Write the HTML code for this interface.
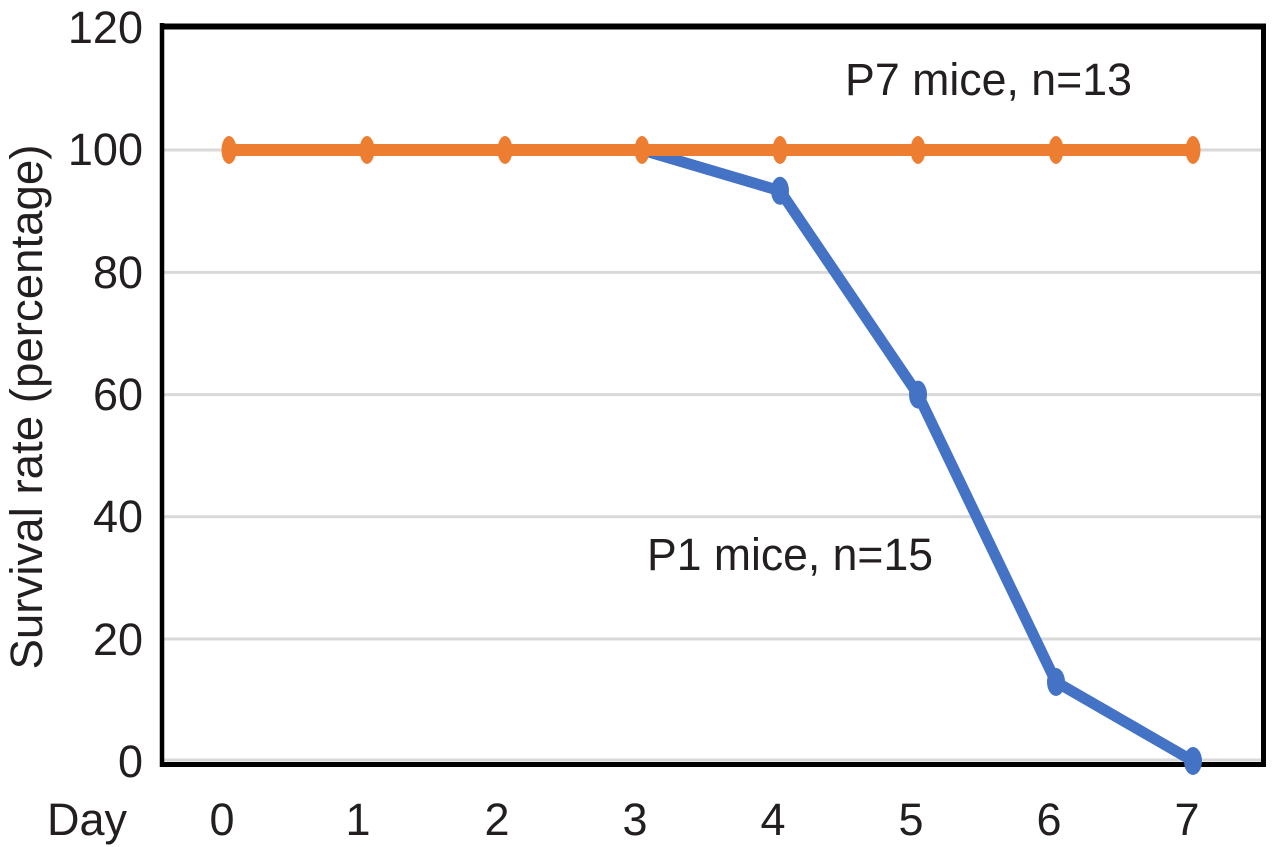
<!DOCTYPE html>
<html><head><meta charset="utf-8"><style>
html,body{margin:0;padding:0;background:#fff;}
svg{display:block;}
text{font-family:"Liberation Sans",Arial,sans-serif;fill:#231f20;}
</style></head><body>
<svg width="1282" height="847" viewBox="0 0 1282 847" xmlns="http://www.w3.org/2000/svg">
<rect width="1282" height="847" fill="#fff"/>
<!-- gridlines -->
<g stroke="#d9d9d9" stroke-width="3">
<line x1="164" y1="150" x2="1261" y2="150"/>
<line x1="164" y1="272.4" x2="1261" y2="272.4"/>
<line x1="164" y1="394.6" x2="1261" y2="394.6"/>
<line x1="164" y1="516.8" x2="1261" y2="516.8"/>
<line x1="164" y1="639" x2="1261" y2="639"/>
<line x1="164" y1="760" x2="1261" y2="760"/>
</g>
<!-- frame -->
<g stroke="#000" fill="none">
<line x1="162" y1="23" x2="162" y2="767" stroke-width="4.5"/>
<line x1="160" y1="26.5" x2="1266" y2="26.5" stroke-width="6"/>
<line x1="1263.5" y1="24" x2="1263.5" y2="767" stroke-width="5"/>
<line x1="160" y1="764.5" x2="1266" y2="764.5" stroke-width="5"/>
</g>
<!-- blue series -->
<polyline points="229,150 367,150 505,150 642,150 780,190.8 918,394.6 1056,682 1193,761" fill="none" stroke="#4472c4" stroke-width="11" stroke-linejoin="round"/>
<g fill="#4472c4">
<ellipse cx="780" cy="190.8" rx="9" ry="14"/>
<ellipse cx="918" cy="394.6" rx="9" ry="14"/>
<ellipse cx="1056" cy="682" rx="9" ry="14"/>
<ellipse cx="1193" cy="761" rx="9" ry="14"/>
</g>
<!-- orange series -->
<polyline points="229,150 1193,150" fill="none" stroke="#ed7d31" stroke-width="12"/>
<g fill="#ed7d31">
<ellipse cx="229" cy="150" rx="7.5" ry="14"/>
<ellipse cx="367" cy="150" rx="7.5" ry="14"/>
<ellipse cx="505" cy="150" rx="7.5" ry="14"/>
<ellipse cx="642" cy="150" rx="7.5" ry="14"/>
<ellipse cx="780" cy="150" rx="7.5" ry="14"/>
<ellipse cx="918" cy="150" rx="7.5" ry="14"/>
<ellipse cx="1056" cy="150" rx="7.5" ry="14"/>
<ellipse cx="1193" cy="150" rx="7.5" ry="14"/>
</g>
<!-- y tick labels -->
<g font-size="45" text-anchor="end">
<text x="143" y="43">120</text>
<text x="143" y="165">100</text>
<text x="143" y="288">80</text>
<text x="143" y="410">60</text>
<text x="143" y="532">40</text>
<text x="143" y="655">20</text>
<text x="143" y="777">0</text>
</g>
<!-- x tick labels -->
<g font-size="45" text-anchor="middle">
<text x="87" y="835">Day</text>
<text x="222" y="835">0</text>
<text x="358" y="835">1</text>
<text x="497" y="835">2</text>
<text x="635" y="835">3</text>
<text x="773" y="835">4</text>
<text x="911" y="835">5</text>
<text x="1049" y="835">6</text>
<text x="1187" y="835">7</text>
</g>
<!-- y axis title -->
<text font-size="45" text-anchor="middle" transform="translate(42,407) rotate(-90)" textLength="525" lengthAdjust="spacingAndGlyphs">Survival rate (percentage)</text>
<!-- annotations -->
<text x="845" y="95" font-size="45" textLength="287" lengthAdjust="spacingAndGlyphs">P7 mice, n=13</text>
<text x="647" y="570" font-size="45" textLength="286" lengthAdjust="spacingAndGlyphs">P1 mice, n=15</text>
</svg>
</body></html>
